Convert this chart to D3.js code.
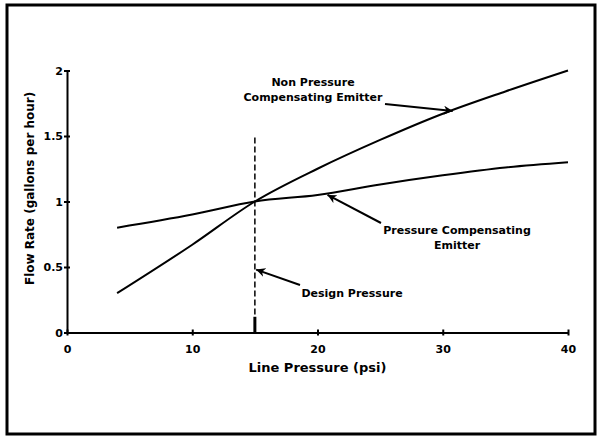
<!DOCTYPE html>
<html><head><meta charset="utf-8">
<script src="https://cdn.jsdelivr.net/npm/d3@7"></script>
<style>body{margin:0;background:#fff}svg text{font-family:"DejaVu Sans",sans-serif;font-weight:bold;fill:#000}</style>
</head><body><svg id="c" width="600" height="440"></svg>
<script>
const nonPcPressure = [4, 10, 15, 20, 25, 30, 35, 40];
const nonPcFlow     = [0.30, 0.67, 1.00, 1.25, 1.47, 1.67, 1.84, 2.00];
const pcPressure    = [4, 10, 15, 20, 25, 30, 35, 40];
const pcFlow        = [0.80, 0.90, 1.00, 1.05, 1.13, 1.20, 1.26, 1.30];
const designPressure = 15;
const designTop = 1.5;
const xTicks = [0, 10, 20, 30, 40];
const yTicks = [0, 0.5, 1, 1.5, 2];
const yTickLabels = ["0", "0.5", "1", "1.5", "2"];

const svg = d3.select("#c");
const x = d3.scaleLinear().domain([0, 40]).range([67, 568]);
const y = d3.scaleLinear().domain([0, 2]).range([332.5, 70.5]);

// frame
svg.append("rect").attr("x", 7).attr("y", 5).attr("width", 588).attr("height", 429)
  .attr("fill", "none").attr("stroke", "#000").attr("stroke-width", 3);

// defs arrow
svg.append("defs").append("marker").attr("id", "ah").attr("viewBox", "0 0 10 10")
  .attr("refX", 10).attr("refY", 5).attr("markerWidth", 9).attr("markerHeight", 9)
  .attr("markerUnits", "userSpaceOnUse").attr("orient", "auto")
  .append("path").attr("d", "M0,0L10,5L0,10L3,5Z").attr("fill", "#000");

// axes
const xAxis = d3.axisBottom(x).tickValues(xTicks).tickSize(3).tickSizeOuter(0).tickFormat(d3.format("d"));
const gx = svg.append("g").attr("transform", `translate(0,${y(0)})`).call(xAxis);
gx.select(".domain").attr("stroke-width", 2);
gx.selectAll(".tick line").attr("y1", -3).attr("stroke-width", 2);
gx.selectAll(".tick text").attr("font-size", 11).attr("dy", "1.3em");

const yAxis = d3.axisLeft(y).tickValues(yTicks).tickSize(3).tickSizeOuter(0).tickFormat((d, i) => yTickLabels[i]);
const gy = svg.append("g").attr("transform", `translate(${x(0)},0)`).call(yAxis);
gy.select(".domain").attr("stroke-width", 2);
gy.selectAll(".tick line").attr("x1", 3).attr("x2", -3).attr("stroke-width", 2);
gy.selectAll(".tick text").attr("font-size", 11).attr("x", -4);
svg.selectAll(".domain").attr("stroke", "#000");

// axis titles
svg.append("text").attr("x", x(20)).attr("y", 372).attr("text-anchor", "middle")
  .attr("font-size", 13).text("Line Pressure (psi)");
svg.append("text").attr("transform", `translate(34,${y(1.1)}) rotate(-90)`).attr("text-anchor", "middle")
  .attr("font-size", 12).text("Flow Rate (gallons per hour)");

// lines
const line = d3.line().x(d => x(d[0])).y(d => y(d[1])).curve(d3.curveMonotoneX);
svg.append("path").datum(d3.zip(nonPcPressure, nonPcFlow)).attr("d", line)
  .attr("fill", "none").attr("stroke", "#000").attr("stroke-width", 2);
svg.append("path").datum(d3.zip(pcPressure, pcFlow)).attr("d", line)
  .attr("fill", "none").attr("stroke", "#000").attr("stroke-width", 2);

// design pressure dashed line
svg.append("line").attr("x1", x(designPressure)).attr("x2", x(designPressure))
  .attr("y1", y(0)).attr("y2", y(designTop)).attr("stroke", "#000")
  .attr("stroke-width", 1.5).attr("stroke-dasharray", "6,3");
svg.append("line").attr("x1", x(designPressure)).attr("x2", x(designPressure))
  .attr("y1", y(0)).attr("y2", y(0.12)).attr("stroke", "#000").attr("stroke-width", 3);

// annotations
function ann(lines, tx, ty, ax0, ay0, ax1, ay1) {
  const t = svg.append("text").attr("text-anchor", "middle").attr("font-size", 11);
  lines.forEach((s, i) => t.append("tspan").attr("x", tx).attr("y", ty + i * 15).text(s));
  svg.append("line").attr("x1", ax0).attr("y1", ay0).attr("x2", ax1).attr("y2", ay1)
    .attr("stroke", "#000").attr("stroke-width", 2).attr("marker-end", "url(#ah)");
}
ann(["Non Pressure", "Compensating Emitter"], 313, 86, 385, 104, x(30.8), y(1.69));
ann(["Pressure Compensating", "Emitter"], 457, 234, 381, 223, x(20.8), y(1.05));
ann(["Design Pressure"], 352, 297, 300, 285, x(15.1), y(0.48));
</script></body></html>
